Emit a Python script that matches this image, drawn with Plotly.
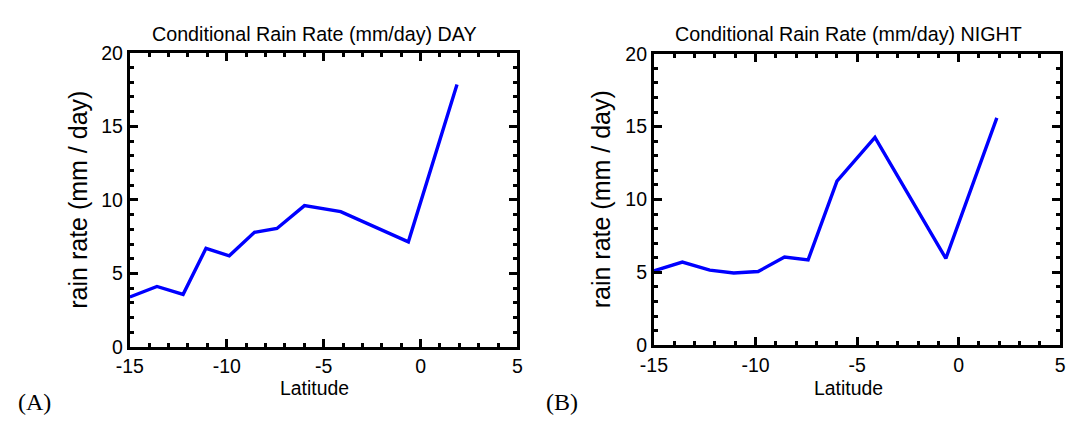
import plotly.graph_objects as go

# Latitude bins (degrees) shared by both panels
latitude = [-15.0, -13.6, -12.25, -11.07, -9.87, -8.57, -7.41, -5.99, -4.12, -0.63, 1.88]

# Conditional rain rate, mm/day
rain_day = [3.4, 4.12, 3.58, 6.71, 6.2, 7.8, 8.06, 9.61, 9.2, 7.15, 17.85]
rain_night = [5.1, 5.7, 5.15, 4.95, 5.05, 6.05, 5.85, 11.25, 14.25, 5.95, 15.6]

panel_titles = ["Conditional Rain Rate (mm/day) DAY", "Conditional Rain Rate (mm/day) NIGHT"]
panel_tags = ["(A)", "(B)"]
x_ticks = [-15, -10, -5, 0, 5]
y_ticks = [0, 5, 10, 15, 20]

W, H = 1078, 434
SANS = "Liberation Sans, Arial, sans-serif"
SERIF = "Liberation Serif, Times New Roman, serif"

# pixel boxes of the two plot frames: (left, right, top, bottom)
boxes = [(118, 513, 44, 354), (652, 1066, 45, 352)]

fig = go.Figure()
for i, vals in enumerate([rain_day, rain_night]):
    sfx = "" if i == 0 else str(i + 1)
    fig.add_trace(go.Scatter(
        x=latitude, y=vals, mode="lines",
        line=dict(color="#0000ff", width=3.4),
        xaxis="x" + sfx, yaxis="y" + sfx, showlegend=False,
    ))

axis_common = dict(
    showgrid=False, zeroline=False, showline=True, linecolor="black", linewidth=3,
    mirror="ticks", ticks="inside", ticklen=8, tickwidth=3, tickcolor="black",
    tickfont=dict(family=SANS, size=19.5, color="black"),
    minor=dict(ticks="inside", ticklen=4, tickwidth=3, tickcolor="black", dtick=1),
    fixedrange=True,
)

layout = dict(width=W, height=H, margin=dict(l=0, r=0, t=0, b=0),
              paper_bgcolor="white", plot_bgcolor="white", annotations=[])

for i, (l, r, t, b) in enumerate(boxes):
    sfx = "" if i == 0 else str(i + 1)
    layout["xaxis" + sfx] = dict(axis_common, domain=[l / W, r / W], range=[-15, 5],
                                 tickvals=x_ticks, ticktext=[str(v) for v in x_ticks],
                                 anchor="y" + sfx)
    layout["yaxis" + sfx] = dict(axis_common, domain=[(H - b) / H, (H - t) / H], range=[0, 20],
                                 tickvals=y_ticks, ticktext=[str(v) for v in y_ticks],
                                 anchor="x" + sfx)

    cx = (l + r) / 2 - 9
    layout["annotations"] += [
        dict(text=panel_titles[i], x=cx / W, y=(H - 24) / H, xref="paper", yref="paper",
             showarrow=False, xanchor="center", yanchor="middle",
             font=dict(family=SANS, size=19.7, color="black")),
        dict(text="Latitude", x=cx / W, y=(H - 397) / H, xref="paper", yref="paper",
             showarrow=False, xanchor="center", yanchor="middle",
             font=dict(family=SANS, size=19.4, color="black")),
        dict(text="rain rate (mm / day)", x=(l - 53) / W, y=(H - (t + b) / 2) / H,
             xref="paper", yref="paper", showarrow=False, textangle=-90,
             xanchor="center", yanchor="middle",
             font=dict(family=SANS, size=25, color="black")),
        dict(text=panel_tags[i], x=(2 if i == 0 else 540) / W, y=(H - 412) / H,
             xref="paper", yref="paper", showarrow=False, xanchor="left", yanchor="middle",
             font=dict(family=SERIF, size=24, color="black")),
    ]

fig.update_layout(**layout)
fig.write_html("out.html")
